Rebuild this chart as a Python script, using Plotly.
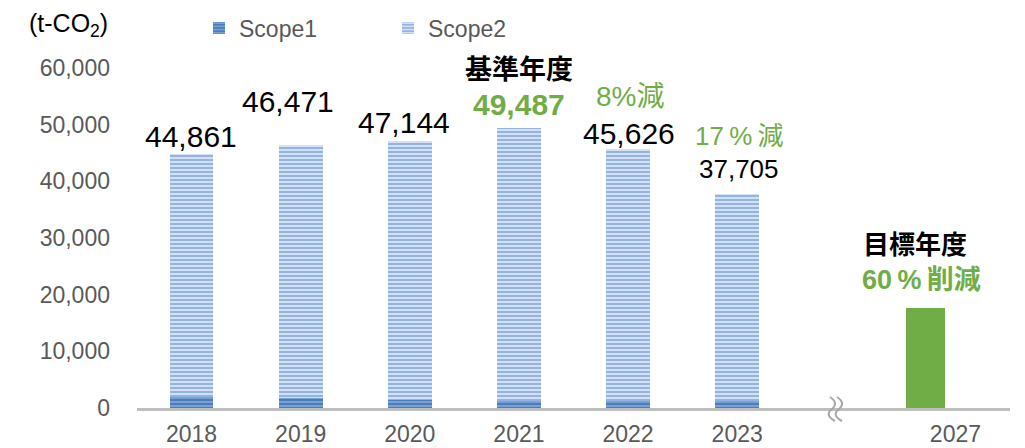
import plotly.graph_objects as go

# ---- data ----
years = ["2018", "2019", "2020", "2021", "2022", "2023"]
slots = ["2018", "2019", "2020", "2021", "2022", "2023", " ", "2027"]
scope1 = [2000, 1800, 1500, 1300, 1300, 1300]
scope2 = [42861, 44671, 45644, 48187, 44326, 36405]
totals = [44861, 46471, 47144, 49487, 45626, 37705]
total_labels = ["44,861", "46,471", "47,144", "49,487", "45,626", "37,705"]
target_year = ["2027"]
target_value = [17700]
y_ticks = [0, 10000, 20000, 30000, 40000, 50000, 60000]

FONT = "Liberation Sans, Arial, Noto Sans CJK JP, sans-serif"
GREEN = "#70AD47"
GREY_TXT = "#595959"

# page body has an 8px default margin: size the figure so it fills the window
OFF = 8
W, H = 1025 - OFF, 448 - OFF
ML, MR, MT, MB = 137 - OFF, 15, 68 - OFF, 40
PW, PH = W - ML - MR, H - MT - MB


def px(xp):  # window pixel -> paper
    return (xp - OFF - ML) / PW


def py(yp):
    return (OFF + H - MB - yp) / PH


fig = go.Figure()
fig.add_trace(go.Bar(
    x=years, y=scope1, name="Scope1", width=0.4,
    marker=dict(color="#4E80C0", line=dict(width=0),
                pattern=dict(shape="-", bgcolor="#4A7DBE", fgcolor="#86AADA",
                             size=4, solidity=0.4, fillmode="replace")),
))
fig.add_trace(go.Bar(
    x=years, y=scope2, name="Scope2", width=0.4,
    marker=dict(color="#9DBBE6", line=dict(width=0),
                pattern=dict(shape="-", bgcolor="#93B4E2", fgcolor="#DCE7F6",
                             size=4, solidity=0.45, fillmode="replace")),
))
fig.add_trace(go.Bar(
    x=target_year, y=target_value, name="目標", showlegend=False,
    width=0.35, offset=-0.45,
    marker=dict(color=GREEN, line=dict(width=0)),
))

annotations = []
# total value labels: (xshift, yshift above bar top, font size, colour, bold)
label_style = [
    (-1, 17, 30, "black", False),
    (-13, 43, 30, "black", False),
    (-6, 18, 30, "black", False),
    (0, 23, 30, GREEN, True),
    (1, 16, 30, "black", False),
    (2, 25, 26, "black", False),
]
for yr, tot, lab, (xs, ys, fs, col, bold) in zip(years, totals, total_labels, label_style):
    annotations.append(dict(
        x=slots.index(yr), y=tot, xref="x", yref="y",
        text=f"<b>{lab}</b>" if bold else lab,
        showarrow=False, xshift=xs, yshift=ys, yanchor="middle",
        font=dict(family=FONT, size=fs, color=col)))

# extra notes
notes = [
    ("2021", totals[3], "<b>基準年度</b>", 0, 58, 27, "black"),
    ("2022", totals[4], "8%減", 2, 53, 28, GREEN),
    ("2023", totals[5], "17\u2009%\u2009減", 2, 58, 26, GREEN),
    ("2027", target_value[0], "<b>目標年度</b>", -40, 63, 26, "black"),
    ("2027", target_value[0], "<b>60\u2009%\u2009削減</b>", -34, 28, 27, GREEN),
]
for xv, yv, t, xs, ys, fs, col in notes:
    annotations.append(dict(
        x=slots.index(xv), y=yv, xref="x", yref="y", text=t, showarrow=False,
        xshift=xs, yshift=ys, yanchor="middle",
        font=dict(family=FONT, size=fs, color=col)))

# unit label
annotations.append(dict(
    x=px(27), y=py(25), xref="paper", yref="paper",
    text="(t-CO<sub>2</sub>)", showarrow=False, xanchor="left", yanchor="middle",
    font=dict(family=FONT, size=25, color="black")))

# axis break mark (two wavy strokes)
shapes = []
for x0 in (830, 837):
    path = (f"M{px(x0)},{py(397)} "
            f"Q{px(x0 + 9)},{py(403)} {px(x0 + 2)},{py(409)} "
            f"Q{px(x0 - 6)},{py(415)} {px(x0 + 5)},{py(421)}")
    shapes.append(dict(type="path", xref="paper", yref="paper", path=path,
                       line=dict(color="#A6A6A6", width=2)))

fig.update_layout(
    width=W, height=H,
    margin=dict(l=ML, r=MR, t=MT, b=MB, autoexpand=False),
    barmode="stack",
    plot_bgcolor="white", paper_bgcolor="white",
    font=dict(family=FONT, size=23, color=GREY_TXT),
    legend=dict(orientation="h", x=px(199), y=py(28), xanchor="left", yanchor="middle",
                font=dict(family=FONT, size=23, color=GREY_TXT),
                entrywidth=144, entrywidthmode="pixels",
                bgcolor="rgba(0,0,0,0)", traceorder="normal"),
    annotations=annotations,
    shapes=shapes,
    showlegend=True,
)
fig.update_xaxes(
    type="category", categoryorder="array", categoryarray=slots,
    range=[-0.5, 7.5], showline=True, linecolor="#BFBFBF", linewidth=3,
    showgrid=False, ticks="", ticklabelstandoff=3, automargin=False,
    tickfont=dict(family=FONT, size=23, color=GREY_TXT),
)
fig.update_yaxes(
    range=[0, 60000], tickvals=y_ticks, tickformat=",", showgrid=False,
    zeroline=False, showline=False, ticks="", ticklabelstandoff=26, automargin=False,
    tickfont=dict(family=FONT, size=23, color=GREY_TXT),
)

fig.write_html("out.html")
